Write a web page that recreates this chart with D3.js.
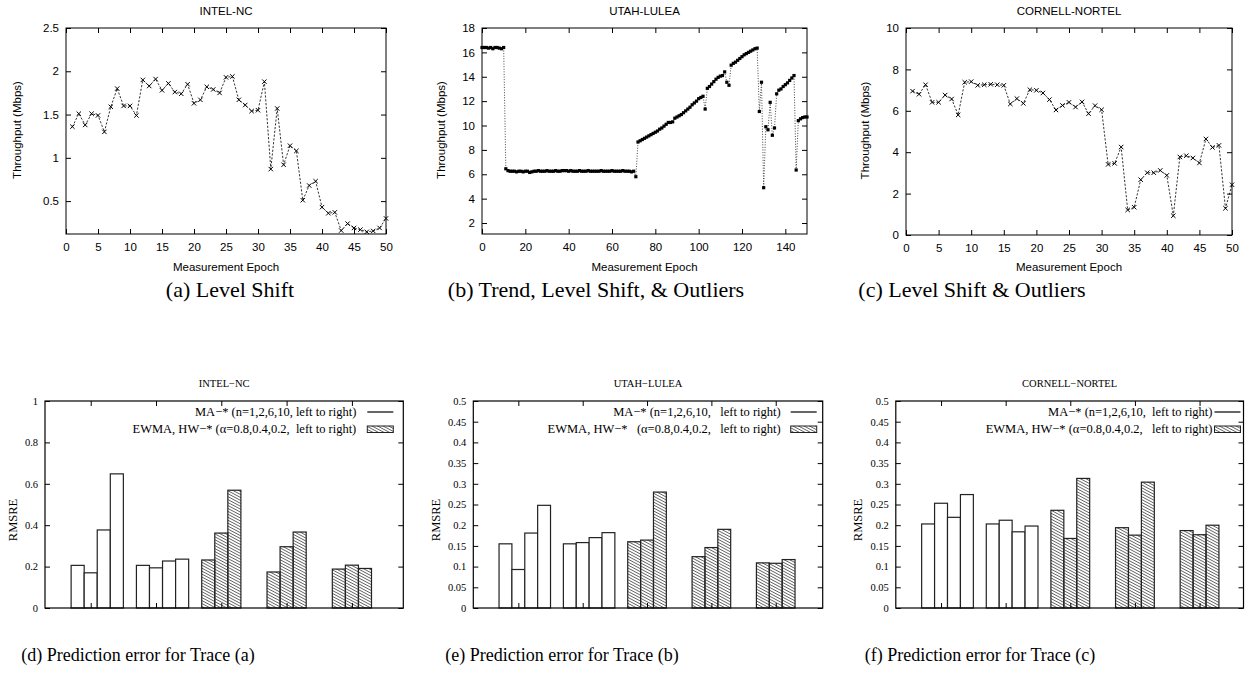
<!DOCTYPE html>
<html>
<head>
<meta charset="utf-8">
<script src="https://d3js.org/d3.v7.min.js"></script>
<style>
body { margin: 0; background: #fff; }
text { fill: #000; }
</style>
</head>
<body>
<svg width="1253" height="676"></svg>
<script>
// throughput traces (Mbps), one value per measurement epoch
var intelTput = [1.36, 1.51, 1.38, 1.51, 1.49, 1.30, 1.59, 1.80, 1.60, 1.60,
                 1.49, 1.90, 1.83, 1.91, 1.78, 1.86, 1.76, 1.74, 1.85, 1.63,
                 1.67, 1.82, 1.79, 1.75, 1.93, 1.94, 1.67, 1.61, 1.54, 1.55,
                 1.88, 0.87, 1.57, 0.92, 1.14, 1.08, 0.51, 0.68, 0.73, 0.43,
                 0.36, 0.37, 0.16, 0.24, 0.19, 0.17, 0.145, 0.155, 0.19, 0.30];

var utahTput = [16.4, 16.4, 16.4, 16.35, 16.4, 16.3, 16.4, 16.4, 16.35, 16.3, 16.4,
                6.45,
                6.3, 6.25, 6.25, 6.25, 6.2, 6.25, 6.25, 6.2, 6.25, 6.25, 6.15, 6.2,
                6.25, 6.25, 6.3, 6.25, 6.25, 6.25, 6.3, 6.25, 6.25, 6.25, 6.3, 6.25,
                6.25, 6.3, 6.3, 6.3, 6.25, 6.3, 6.25, 6.25, 6.25, 6.3, 6.25, 6.25,
                6.25, 6.3, 6.25, 6.25, 6.25, 6.25, 6.25, 6.3, 6.25, 6.25, 6.25, 6.25,
                6.3, 6.25, 6.25, 6.25, 6.25, 6.3, 6.25, 6.25, 6.25, 6.2, 6.25,
                5.8,
                8.65, 8.75, 8.85, 8.95, 9.05, 9.15, 9.25, 9.35, 9.45, 9.55,
                9.7, 9.8, 9.95, 10.1, 10.25, 10.25, 10.3, 10.6, 10.7, 10.8,
                10.9, 11.05, 11.2, 11.35, 11.5, 11.7, 11.85, 12.0, 12.2, 12.3, 12.4,
                11.35,
                13.05, 13.2, 13.4, 13.6, 13.8, 13.95, 14.05, 14.1, 14.4,
                13.55, 13.3,
                14.95, 15.1, 15.2, 15.35, 15.5, 15.65, 15.8, 15.9, 16.0, 16.1, 16.2, 16.3, 16.35,
                11.15, 13.55, 4.9, 9.9, 9.65, 11.9, 9.2, 9.8,
                12.6, 12.9, 13.0, 13.2, 13.35, 13.5, 13.7, 13.9, 14.1,
                6.35,
                10.4, 10.55, 10.65, 10.7, 10.7];

var cornellTput = [6.95, 6.80, 7.26, 6.41, 6.41, 6.76, 6.57, 5.80, 7.38, 7.41,
                   7.23, 7.26, 7.28, 7.26, 7.23, 6.33, 6.59, 6.36, 7.02, 6.99,
                   6.86, 6.54, 6.04, 6.26, 6.41, 6.18, 6.43, 5.86, 6.25, 6.05,
                   3.41, 3.46, 4.25, 1.21, 1.34, 2.67, 3.01, 3.01, 3.12, 2.88,
                   0.93, 3.77, 3.83, 3.72, 3.48, 4.64, 4.23, 4.33, 1.29, 2.43];

var epochTicks50 = [0, 5, 10, 15, 20, 25, 30, 35, 40, 45, 50];
var epochTicks150 = [0, 20, 40, 60, 80, 100, 120, 140];
var intelYTicks = [0.5, 1, 1.5, 2, 2.5];
var utahYTicks = [2, 4, 6, 8, 10, 12, 14, 16, 18];
var cornellYTicks = [0, 2, 4, 6, 8, 10];

// prediction error (RMSRE): MA n=1,2,6,10 | MA (2nd) | EWMA/HW a=0.8,0.4,0.2 x3
var intelErr = [[0.206, 0.170, 0.377, 0.648], [0.206, 0.194, 0.227, 0.236],
                [0.232, 0.362, 0.569], [0.174, 0.296, 0.367], [0.188, 0.207, 0.191]];
var utahErr = [[0.155, 0.093, 0.181, 0.248], [0.155, 0.158, 0.170, 0.182],
               [0.160, 0.164, 0.280], [0.124, 0.146, 0.190], [0.109, 0.108, 0.117]];
var cornellErr = [[0.203, 0.253, 0.219, 0.274], [0.203, 0.212, 0.184, 0.198],
                  [0.236, 0.168, 0.313], [0.194, 0.176, 0.304], [0.187, 0.177, 0.200]];
var hatchedGroup = [false, false, true, true, true];
var rmsreTicks1 = [0, 0.2, 0.4, 0.6, 0.8, 1];
var rmsreTicks05 = [0, 0.05, 0.1, 0.15, 0.2, 0.25, 0.3, 0.35, 0.4, 0.45, 0.5];

var captions = ["(a) Level Shift", "(b) Trend, Level Shift, & Outliers", "(c) Level Shift & Outliers",
                "(d) Prediction error for Trace (a)", "(e) Prediction error for Trace (b)",
                "(f) Prediction error for Trace (c)"];

var SANS = "'Liberation Sans', Arial, sans-serif";
var SERIF = "'Liberation Serif', 'Times New Roman', serif";

var svg = d3.select("svg");

// hatch for the EWMA / HW bars
svg.append("defs").append("pattern")
    .attr("id", "hatch")
    .attr("patternUnits", "userSpaceOnUse")
    .attr("width", 4)
    .attr("height", 2.6)
    .attr("patternTransform", "rotate(28)")
    .append("line")
    .attr("x1", 0).attr("x2", 4)
    .attr("y1", 1.3).attr("y2", 1.3)
    .attr("stroke", "#444")
    .attr("stroke-width", 0.8);

/*
Gráfico de throughput (linha tracejada com marcadores)
*/
function tracePlot(o) {
    var x = d3.scaleLinear().domain(o.xDomain).range([o.left, o.right]);
    var y = d3.scaleLinear().domain(o.yDomain).range([o.bottom, o.top]);
    var g = svg.append("g").attr("font-family", SANS);

    g.append("g")
        .attr("transform", "translate(0," + o.bottom + ")")
        .call(d3.axisBottom(x).tickValues(o.xTicks).tickSize(-5).tickPadding(9).tickFormat(d3.format("")));
    g.append("g")
        .attr("transform", "translate(0," + o.top + ")")
        .call(d3.axisTop(x).tickValues(o.xTicks).tickSize(-5).tickFormat(""));
    g.append("g")
        .attr("transform", "translate(" + o.left + ",0)")
        .call(d3.axisLeft(y).tickValues(o.yTicks).tickSize(-5).tickPadding(7).tickFormat(d3.format("")));
    g.append("g")
        .attr("transform", "translate(" + o.right + ",0)")
        .call(d3.axisRight(y).tickValues(o.yTicks).tickSize(-5).tickFormat(""));

    g.selectAll(".domain").remove();
    g.selectAll(".tick line").attr("stroke", "#000");
    g.selectAll(".tick text").attr("font-size", 11.5).attr("font-family", SANS);

    g.append("rect")
        .attr("x", o.left).attr("y", o.top)
        .attr("width", o.right - o.left).attr("height", o.bottom - o.top)
        .attr("fill", "none").attr("stroke", "#000").attr("stroke-width", 1);

    var line = d3.line()
        .x(function(d, i) { return x(i + o.start); })
        .y(function(d) { return y(d); });

    g.append("path")
        .datum(o.values)
        .attr("d", line)
        .attr("fill", "none")
        .attr("stroke", o.square ? "#333" : "#000")
        .attr("stroke-width", o.square ? 0.9 : 0.8)
        .attr("stroke-dasharray", o.square ? "1,1.6" : "2.2,1.6");

    if (o.square) {
        g.selectAll(".pt").data(o.values).enter().append("rect")
            .attr("x", function(d, i) { return x(i + o.start) - 1.6; })
            .attr("y", function(d) { return y(d) - 1.6; })
            .attr("width", 3.2).attr("height", 3.2)
            .attr("fill", "#000");
    } else {
        g.selectAll(".pt").data(o.values).enter().append("path")
            .attr("transform", function(d, i) { return "translate(" + x(i + o.start) + "," + y(d) + ")"; })
            .attr("d", "M-2.2,-2.2L2.2,2.2M-2.2,2.2L2.2,-2.2")
            .attr("stroke", "#000").attr("stroke-width", 1);
    }

    g.append("text")
        .attr("x", (o.left + o.right) / 2).attr("y", 15)
        .attr("text-anchor", "middle").attr("font-size", 11.5)
        .text(o.title);
    g.append("text")
        .attr("x", (o.left + o.right) / 2).attr("y", 271)
        .attr("text-anchor", "middle").attr("font-size", 11.5)
        .text("Measurement Epoch");
    g.append("text")
        .attr("transform", "translate(" + o.ylabelX + "," + ((o.top + o.bottom) / 2 - 1) + ") rotate(-90)")
        .attr("text-anchor", "middle").attr("dy", "0.35em").attr("font-size", 11.5)
        .text("Throughput (Mbps)");
}

/*
Gráfico de barras do erro de previsão
*/
function errorPlot(o) {
    var top = 401, bottom = 608;
    var x = d3.scaleLinear().domain([-0.7, o.xMax]).range([o.left, o.right]);
    var y = d3.scaleLinear().domain([0, o.yTicks[o.yTicks.length - 1]]).range([bottom, top]);
    var bw = x(0.2) - x(0);
    var g = svg.append("g").attr("font-family", SERIF);

    var bars = [];
    o.values.forEach(function(vals, gi) {
        vals.forEach(function(v, k) {
            bars.push({group: gi, k: k, value: v, hatched: hatchedGroup[gi]});
        });
    });

    g.selectAll(".bar").data(bars).enter().append("rect")
        .attr("class", "bar")
        .attr("x", function(d) { return x(d.group + (d.k - 1) * 0.2 - 0.1); })
        .attr("y", function(d) { return y(d.value); })
        .attr("width", bw)
        .attr("height", function(d) { return bottom - y(d.value); })
        .attr("fill", function(d) { return d.hatched ? "url(#hatch)" : "#fff"; })
        .attr("stroke", "#222")
        .attr("stroke-width", 1.2);

    var groupTicks = o.values.map(function(d, i) { return i; });
    g.append("g")
        .attr("transform", "translate(0," + bottom + ")")
        .call(d3.axisBottom(x).tickValues(groupTicks).tickSize(-5).tickFormat(""));
    g.append("g")
        .attr("transform", "translate(0," + top + ")")
        .call(d3.axisTop(x).tickValues(groupTicks).tickSize(-5).tickFormat(""));
    g.append("g")
        .attr("transform", "translate(" + o.left + ",0)")
        .call(d3.axisLeft(y).tickValues(o.yTicks).tickSize(-5).tickPadding(7).tickFormat(d3.format("")));
    g.append("g")
        .attr("transform", "translate(" + o.right + ",0)")
        .call(d3.axisRight(y).tickValues(o.yTicks).tickSize(-5).tickFormat(""));

    g.selectAll(".domain").remove();
    g.selectAll(".tick line").attr("stroke", "#000");
    g.selectAll(".tick text").attr("font-size", 10.5).attr("font-family", SERIF);

    g.append("rect")
        .attr("x", o.left).attr("y", top)
        .attr("width", o.right - o.left).attr("height", bottom - top)
        .attr("fill", "none").attr("stroke", "#000").attr("stroke-width", 1.2);

    // legend
    var sx = o.right - o.inset, sw = 26;
    g.append("text")
        .attr("x", sx - sw - o.gap).attr("y", 412).attr("dy", "0.35em")
        .attr("text-anchor", "end").attr("font-size", 12.5)
        .style("white-space", "pre")
        .text(o.legend[0]);
    g.append("line")
        .attr("x1", sx - sw).attr("x2", sx)
        .attr("y1", 412).attr("y2", 412)
        .attr("stroke", "#000").attr("stroke-width", 1.2);
    g.append("text")
        .attr("x", sx - sw - o.gap).attr("y", 429).attr("dy", "0.35em")
        .attr("text-anchor", "end").attr("font-size", 12.5)
        .style("white-space", "pre")
        .text(o.legend[1]);
    g.append("rect")
        .attr("x", sx - sw).attr("y", 426)
        .attr("width", sw).attr("height", 6.5)
        .attr("fill", "url(#hatch)").attr("stroke", "#222").attr("stroke-width", 1);

    g.append("text")
        .attr("x", (o.left + o.right) / 2).attr("y", 387)
        .attr("text-anchor", "middle").attr("font-size", 10.5)
        .text(o.title);
    g.append("text")
        .attr("transform", "translate(" + o.ylabelX + ",520) rotate(-90)")
        .attr("text-anchor", "middle").attr("dy", "0.35em").attr("font-size", 12.5)
        .text("RMSRE");
}

tracePlot({left: 66, right: 386, top: 28, bottom: 234, xDomain: [0, 50], yDomain: [0.12, 2.5],
           xTicks: epochTicks50, yTicks: intelYTicks, values: intelTput, start: 1,
           title: "INTEL-NC", ylabelX: 17});
tracePlot({left: 482, right: 807, top: 28, bottom: 234, xDomain: [0, 150], yDomain: [1.1, 18],
           xTicks: epochTicks150, yTicks: utahYTicks, values: utahTput, start: 0, square: true,
           title: "UTAH-LULEA", ylabelX: 441});
tracePlot({left: 906, right: 1232, top: 28, bottom: 235, xDomain: [0, 50], yDomain: [0, 10],
           xTicks: epochTicks50, yTicks: cornellYTicks, values: cornellTput, start: 1,
           title: "CORNELL-NORTEL", ylabelX: 865});

errorPlot({left: 45, right: 403.3, xMax: 4.787, yTicks: rmsreTicks1, values: intelErr, title: "INTEL\u2212NC",
           ylabelX: 13, inset: 10, gap: 11,
           legend: ["MA\u2212* (n=1,2,6,10, left to right)", "EWMA, HW\u2212* (\u03b1=0.8,0.4,0.2,  left to right)"]});
errorPlot({left: 473.3, right: 822.7, xMax: 4.73, yTicks: rmsreTicks05, values: utahErr, title: "UTAH\u2212LULEA",
           ylabelX: 436, inset: 6, gap: 10,
           legend: ["MA\u2212* (n=1,2,6,10,   left to right)", "EWMA, HW\u2212*   (\u03b1=0.8,0.4,0.2,   left to right)"]});
errorPlot({left: 895.8, right: 1243.5, xMax: 4.68, yTicks: rmsreTicks05, values: cornellErr, title: "CORNELL\u2212NORTEL",
           ylabelX: 858, inset: 3, gap: 2,
           legend: ["MA\u2212* (n=1,2,6,10,  left to right)", "EWMA, HW\u2212* (\u03b1=0.8,0.4,0.2,   left to right)"]});

// sub-figure captions (the top row's captions are set larger in the original)
var capX = [230, 596, 972, 138, 562, 980];
var capY = [297, 297, 297, 661, 661, 661];
var capSize = [22, 22, 22, 18, 18, 18];
svg.selectAll(".caption").data(captions).enter().append("text")
    .attr("class", "caption")
    .attr("x", function(d, i) { return capX[i]; })
    .attr("y", function(d, i) { return capY[i]; })
    .attr("text-anchor", "middle")
    .attr("font-family", SERIF)
    .attr("font-size", function(d, i) { return capSize[i]; })
    .text(function(d) { return d; });
</script>
</body>
</html>
